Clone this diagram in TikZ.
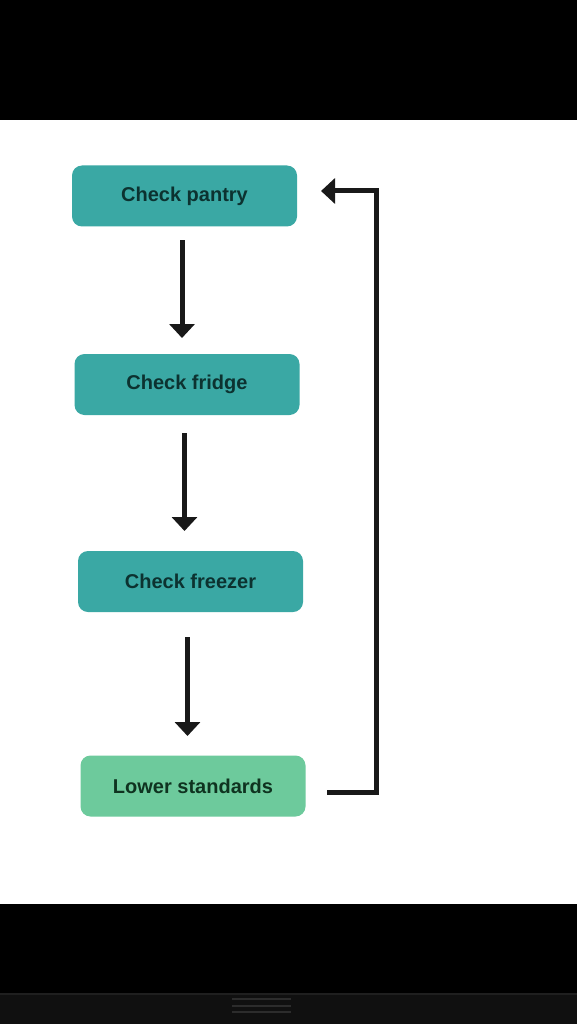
\documentclass[tikz,border=0pt]{standalone}
\usepackage{fontspec}
\setmainfont{Liberation Sans}
\usetikzlibrary{arrows.meta}
\definecolor{teal1}{HTML}{3AA8A4}
\definecolor{green1}{HTML}{6DCA9C}
\definecolor{txt1}{HTML}{0C3230}
\definecolor{txt2}{HTML}{0F3320}
\definecolor{bar}{HTML}{101010}
\definecolor{handle}{HTML}{2C2C2C}
\tikzset{
  box/.style={rounded corners=10pt, minimum width=225pt, minimum height=61pt, inner sep=0pt,
    font=\fontsize{20}{24}\selectfont\bfseries},
  tealbox/.style={box, fill=teal1, text=txt1},
  greenbox/.style={box, fill=green1, text=txt2},
  conn/.style={line width=5pt, draw=black!90, -{Triangle[length=14pt,width=25pt]}},
}
\begin{document}
\begin{tikzpicture}[x=1pt,y=-1pt]
\useasboundingbox (0,0) rectangle (577,1024);
\fill[black] (0,0) rectangle (577,120);
\fill[white] (0,120) rectangle (577,904);
\fill[black] (0,904) rectangle (577,993);
\fill[bar] (0,993) rectangle (577,1024);
\fill[handle!70!black] (0,993) rectangle (577,995);
\foreach \yy in {999,1005.5,1012} \fill[handle] (232,\yy-1) rectangle (291,\yy+1);

\node[tealbox] (pantry) at (184.5,196) {Check pantry};
\node[tealbox] (fridge) at (187,384.5) {Check fridge};
\node[tealbox] (freezer) at (190.5,581.5) {Check freezer};
\node[greenbox] (lower) at (193,786) {Lower standards};

\coordinate (a1s) at (182,240);
\coordinate (a1e) at (182,338);
\coordinate (a2s) at (184.5,433);
\coordinate (a2e) at (184.5,531);
\coordinate (a3s) at (187.5,637);
\coordinate (a3e) at (187.5,736);
\draw[conn] (a1s) -- (a1e);
\draw[conn] (a2s) -- (a2e);
\draw[conn] (a3s) -- (a3e);

\coordinate (ls) at (327,792);
\coordinate (lc1) at (376,792);
\coordinate (lc2) at (376,191);
\coordinate (le) at (321,191);
\draw[conn] (ls) -- (lc1) -- (lc2) -- (le);
\end{tikzpicture}
\end{document}
